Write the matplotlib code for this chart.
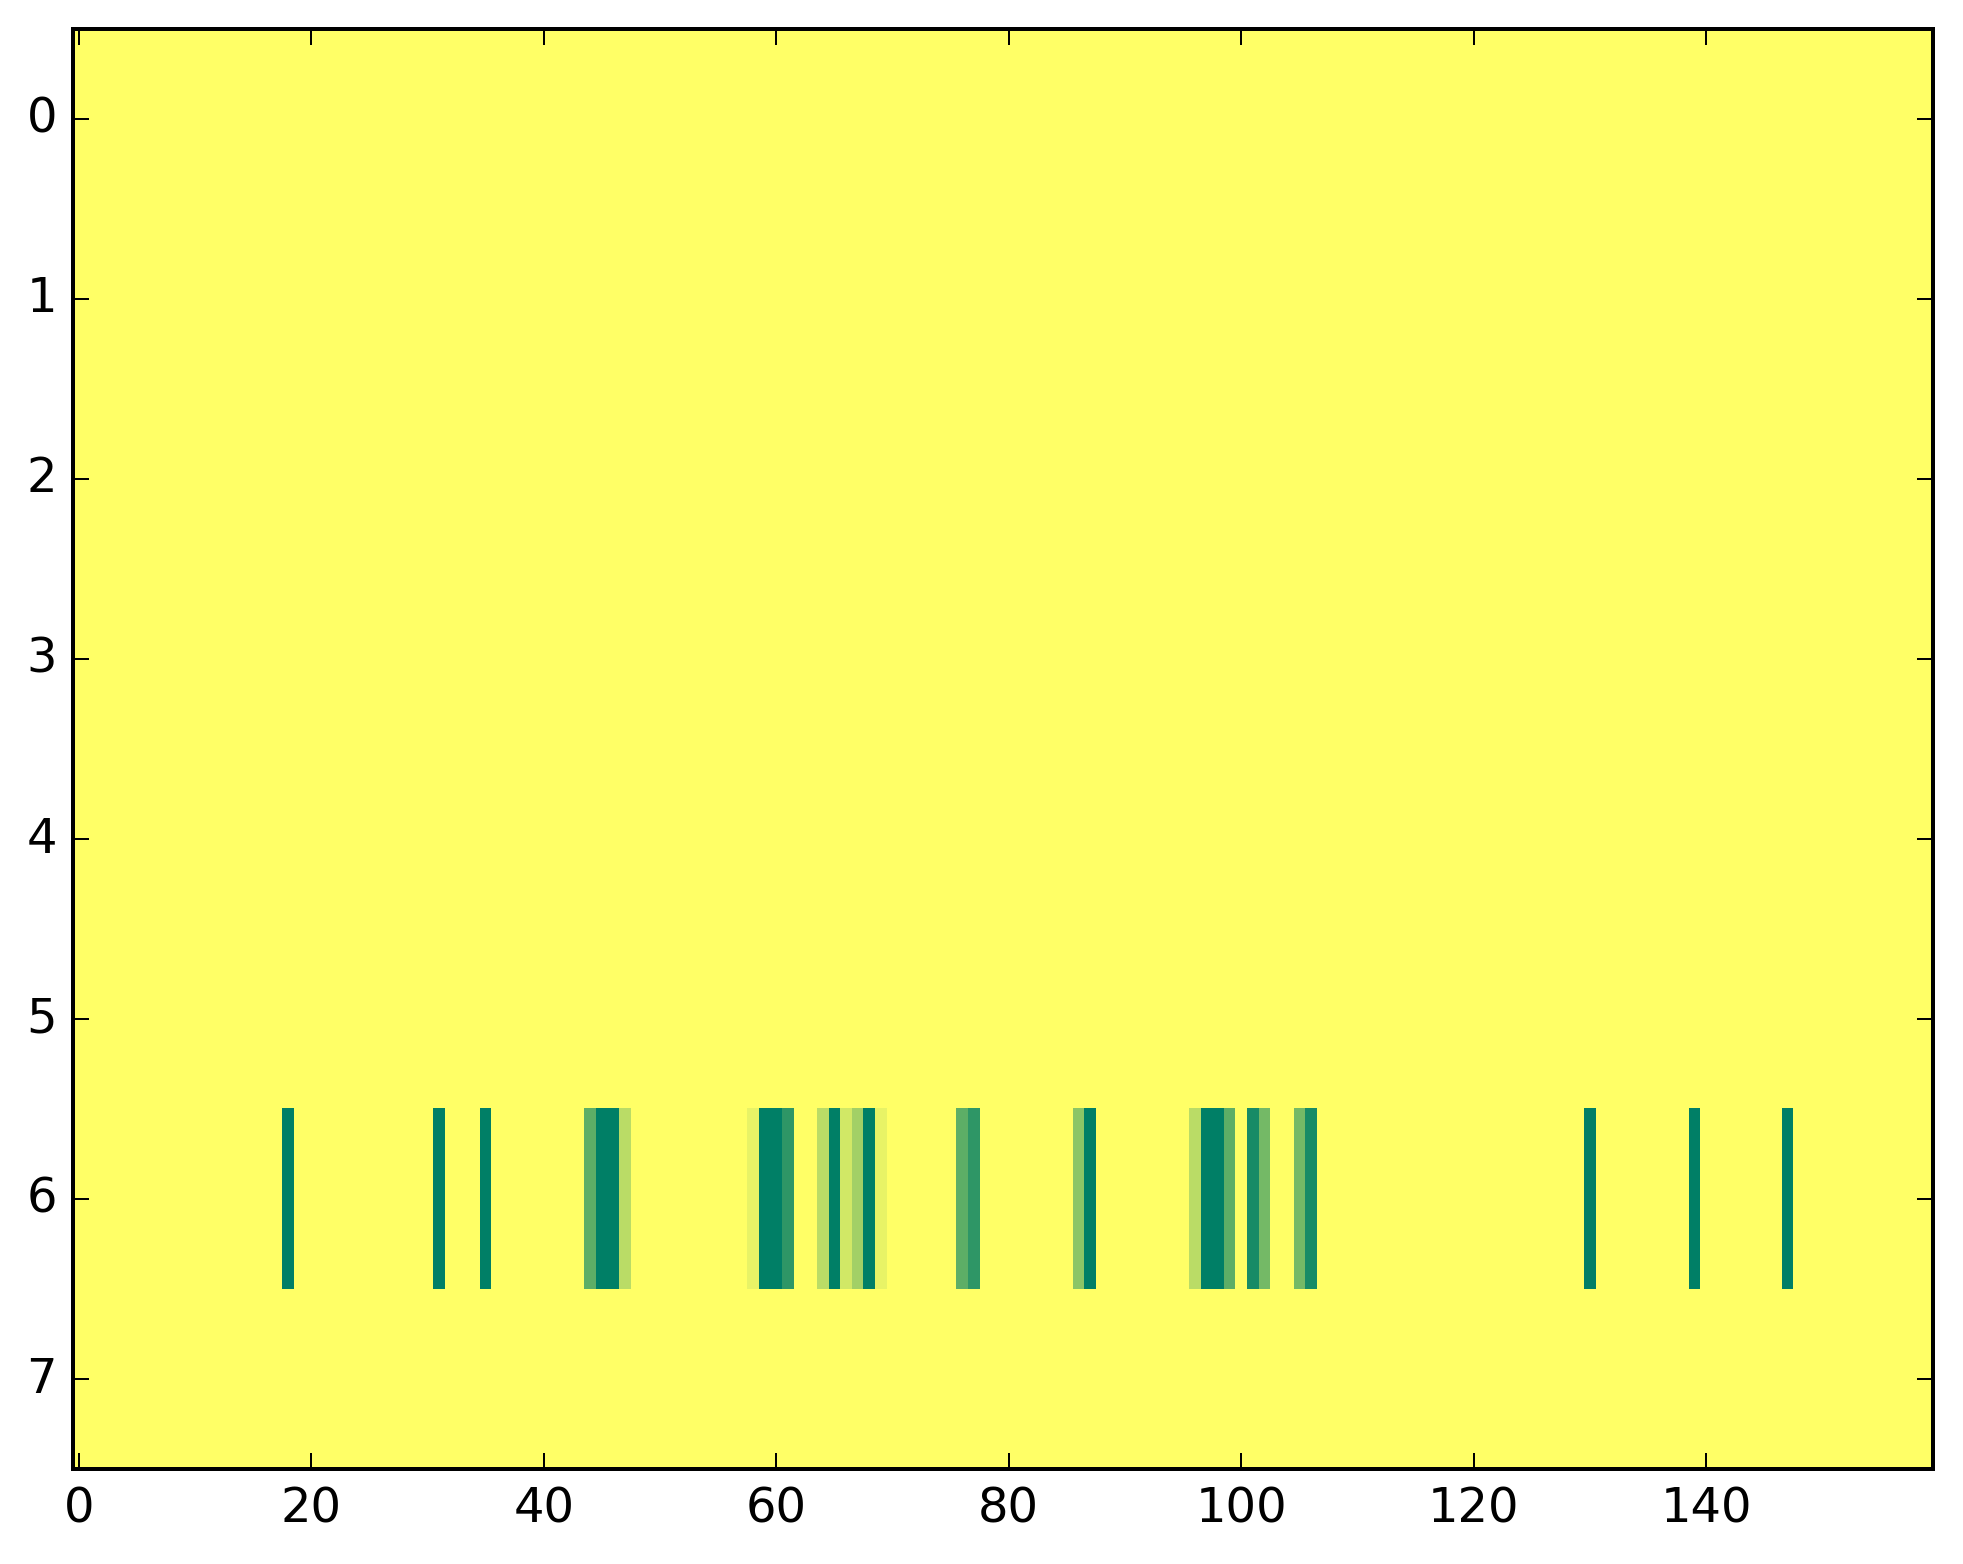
import matplotlib
matplotlib.use('Agg')
import matplotlib.pyplot as plt
import numpy as np

plt.style.use('classic')

# grid size: 8 rows x 160 columns, only row 6 has hits
n_rows = 8
n_cols = 160
hit_row = 6

# column index -> count in row 6
hit_cols = [18, 31, 35, 44, 45, 46, 47, 58, 59, 60, 61, 64, 65, 66, 67, 68, 69,
            76, 77, 86, 87, 96, 97, 98, 99, 101, 102, 105, 106, 130, 139, 147]
hit_vals = [11, 11, 11, 7, 11, 11, 3, 1, 11, 11, 9, 3, 11, 2, 4, 11, 1,
            7, 9, 5, 11, 3, 11, 11, 7, 10, 6, 6, 10, 11, 11, 11]

grid = np.zeros((n_rows, n_cols))
grid[hit_row, hit_cols] = hit_vals

fig = plt.figure(figsize=(1963 / 288, 1564 / 288), dpi=288)
ax = fig.add_axes([0.0372, 0.0607, 0.9475, 0.9208])
ax.imshow(grid, cmap='summer_r', aspect='auto', interpolation='nearest')
ax.set_xticks(range(0, 160, 20))
ax.set_yticks(range(0, 8))

fig.savefig('out.png', dpi=288)
